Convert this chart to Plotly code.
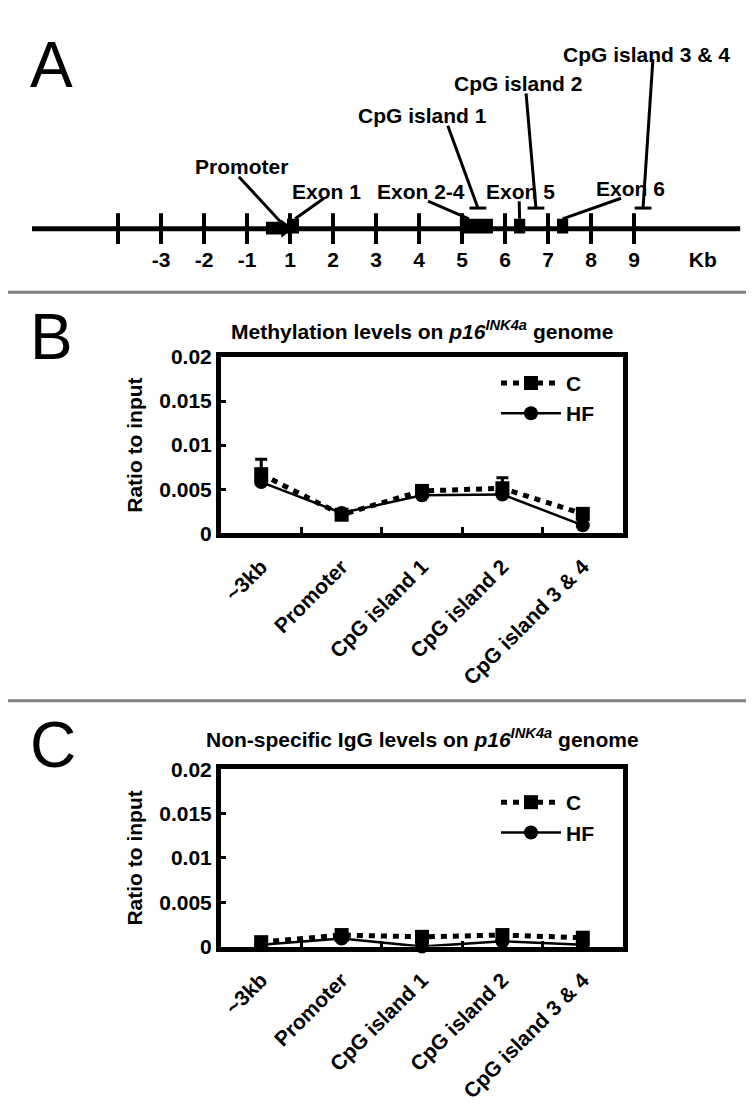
import plotly.graph_objects as go

W, H = 754, 1120

# ---------------- Panel A data (gene map, axis units = kb with 0 skipped) -------------
kb_tick_pos = [-4, -3, -2, -1, 0, 1, 2, 3, 4, 5, 6, 7, 8]
kb_label_pos = [-3, -2, -1, 0, 1, 2, 3, 4, 5, 6, 7, 8, 9.6]
kb_labels = ["-3", "-2", "-1", "1", "2", "3", "4", "5", "6", "7", "8", "9", "Kb"]
gene_extent = [-6.0, 10.47]
exon_names = ["Exon 1", "Exon 2-4", "Exon 5", "Exon 6"]
exon_start = [-0.07, 3.95, 5.21, 6.21]
exon_end = [0.21, 4.72, 5.47, 6.47]
promoter_span = [-0.56, -0.16]
cpg_names = ["CpG island 1", "CpG island 2", "CpG island 3 & 4"]
cpg_pos = [4.37, 5.72, 8.21]

# ---------------- Panels B and C data --------------------------------------------------
regions = ["~3kb", "Promoter", "CpG island 1", "CpG island 2", "CpG island 3 & 4"]
meth_C = [0.0067, 0.0021, 0.0048, 0.0051, 0.0022]
meth_C_err = [0.0017, 0.0003, 0.0003, 0.0012, 0.0004]
meth_HF = [0.0058, 0.0023, 0.0043, 0.0044, 0.0009]
igg_C = [0.0005, 0.0013, 0.0011, 0.0013, 0.0010]
igg_C_err = [0.0003, 0.0004, 0.0006, 0.0004, 0.0003]
igg_HF = [0.0002, 0.0009, 0.0000, 0.0006, 0.0002]
y_ticks = [0, 0.005, 0.01, 0.015, 0.02]
y_ticktext = ["0", "0.005", "0.01", "0.015", "0.02"]

FONT = "Liberation Sans, Arial, sans-serif"
BOLD = dict(family=FONT, size=21, color="black", weight="bold")

fig = go.Figure()

# ---------------- Panel A ----------------
A = dict(xaxis="x3", yaxis="y3", showlegend=False, hoverinfo="skip", cliponaxis=False)
fig.add_trace(go.Scatter(x=gene_extent, y=[0, 0], mode="lines",
                         line=dict(color="black", width=5), **A))
fig.add_trace(go.Scatter(x=kb_tick_pos, y=[0] * len(kb_tick_pos), mode="markers",
                         marker=dict(symbol="line-ns", size=22, color="black",
                                     line=dict(width=4, color="black")), **A))
fig.add_trace(go.Scatter(x=kb_label_pos, y=[-34] * len(kb_label_pos), mode="text",
                         text=kb_labels, textfont=BOLD, **A))
# exons
fig.add_trace(go.Bar(x=[(s + e) / 2 for s, e in zip(exon_start, exon_end)],
                     width=[e - s for s, e in zip(exon_start, exon_end)],
                     y=[15] * len(exon_start), base=[-5] * len(exon_start),
                     marker=dict(color="black", line=dict(width=0)),
                     xaxis="x3", yaxis="y3", showlegend=False, hoverinfo="skip"))
# promoter box + arrow head
fig.add_trace(go.Bar(x=[(promoter_span[0] + promoter_span[1]) / 2],
                     width=[promoter_span[1] - promoter_span[0]],
                     y=[13], base=[-6],
                     marker=dict(color="black", line=dict(width=0)),
                     xaxis="x3", yaxis="y3", showlegend=False, hoverinfo="skip"))
fig.add_trace(go.Scatter(x=[promoter_span[1] + 0.05], y=[0], mode="markers",
                         marker=dict(symbol="triangle-right", size=16, color="black"), **A))

# leader lines
exon_label_xy = [(0.84, 38), (3.05, 38), (5.35, 38), (7.91, 41)]
exon_line_start = [(0.79, 31), (3.21, 28), (5.33, 28), (7.70, 31)]
exon_line_end = [(exon_end[0] - 0.09, 10), (exon_start[1] + 0.21, 10),
                 ((exon_start[2] + exon_end[2]) / 2, 10), ((exon_start[3] + exon_end[3]) / 2, 10)]
for name, (lx, ly), (sx, sy), (ex, ey) in zip(exon_names, exon_label_xy, exon_line_start, exon_line_end):
    fig.add_trace(go.Scatter(x=[sx, ex], y=[sy, ey], mode="lines",
                             line=dict(color="black", width=3), **A))
    fig.add_annotation(x=lx, y=ly, xref="x3", yref="y3", text=name, showarrow=False,
                       font=BOLD, xanchor="center", yanchor="middle")

cpg_label_xy = [(3.09, 116), (5.30, 148), (8.28, 178)]
cpg_line_start = [(3.67, 105), (5.49, 138), (8.44, 173)]
for name, pos, (lx, ly), (sx, sy) in zip(cpg_names, cpg_pos, cpg_label_xy, cpg_line_start):
    fig.add_trace(go.Scatter(x=[sx, pos], y=[sy, 21], mode="lines",
                             line=dict(color="black", width=3), **A))
    fig.add_annotation(x=lx, y=ly, xref="x3", yref="y3", text=name, showarrow=False,
                       font=BOLD, xanchor="center", yanchor="middle")
fig.add_trace(go.Scatter(x=cpg_pos, y=[21] * len(cpg_pos), mode="markers",
                         marker=dict(symbol="line-ew", size=12, color="black",
                                     line=dict(width=3, color="black")), **A))

# promoter label + leader
fig.add_trace(go.Scatter(x=[-1.19, promoter_span[1] - 0.02], y=[53, 5], mode="lines",
                         line=dict(color="black", width=3), **A))
fig.add_annotation(x=-1.12, y=63, xref="x3", yref="y3", text="Promoter", showarrow=False,
                   font=BOLD, xanchor="center", yanchor="middle")

# ---------------- Panels B & C ----------------
xcat = list(range(len(regions)))


def add_panel(c_vals, c_err, hf_vals, xa, ya, legend):
    fig.add_trace(go.Scatter(
        x=xcat, y=hf_vals, mode="lines+markers", name="HF",
        line=dict(color="black", width=2.5),
        marker=dict(symbol="circle", size=14, color="black"),
        xaxis=xa, yaxis=ya, legend=legend, legendrank=2,
        cliponaxis=False))
    fig.add_trace(go.Scatter(
        x=xcat, y=c_vals, mode="lines+markers", name="C",
        line=dict(color="black", width=5, dash="6px,6px"),
        marker=dict(symbol="square", size=14, color="black"),
        error_y=dict(type="data", array=c_err, arrayminus=[0] * len(c_err),
                     color="black", thickness=3, width=6),
        xaxis=xa, yaxis=ya, legend=legend, legendrank=1,
        cliponaxis=False))


add_panel(meth_C, meth_C_err, meth_HF, "x", "y", "legend")
add_panel(igg_C, igg_C_err, igg_HF, "x2", "y2", "legend2")

xdom = [213 / W, 615 / W]
xcommon = dict(range=[-0.5, 4.5], tickmode="array", tickvals=xcat, ticktext=regions,
               tickangle=-45, ticks="", showline=True, linewidth=5, linecolor="black",
               mirror=True, showgrid=False, zeroline=False, ticklabelstandoff=8,
               tickfont=BOLD,
               minor=dict(tickmode="array", tickvals=[0.5, 1.5, 2.5, 3.5], ticks="inside",
                          ticklen=6, tickwidth=3, tickcolor="black", showgrid=False))
ycommon = dict(range=[0, 0.02], tickmode="array", tickvals=y_ticks, ticktext=y_ticktext,
               ticks="inside", ticklen=5, tickwidth=3, tickcolor="black",
               showline=True, linewidth=5, linecolor="black", mirror=True,
               showgrid=False, zeroline=False, tickfont=BOLD,
               title=dict(text="Ratio to input", font=BOLD, standoff=12))

legcommon = dict(font=BOLD, bgcolor="rgba(0,0,0,0)", borderwidth=0, xanchor="left",
                 yanchor="top", itemwidth=60, traceorder="normal")

fig.update_layout(
    width=W, height=H,
    margin=dict(l=0, r=0, t=0, b=0),
    paper_bgcolor="white", plot_bgcolor="white",
    font=dict(family=FONT, color="black"),
    barmode="overlay",
    xaxis=dict(domain=xdom, anchor="y", **xcommon),
    yaxis=dict(domain=[1 - 524 / H, 1 - 344 / H], anchor="x", **ycommon),
    xaxis2=dict(domain=xdom, anchor="y2", **xcommon),
    yaxis2=dict(domain=[1 - 946 / H, 1 - 765 / H], anchor="x2", **ycommon),
    xaxis3=dict(domain=[0, 1], range=[-282 / 43, (W - 282) / 43], anchor="y3", visible=False),
    yaxis3=dict(domain=[1 - 260 / H, 1], range=[-47, 213], anchor="x3", visible=False),
    legend=dict(x=488 / W, y=1 - 350 / H, **legcommon),
    legend2=dict(x=488 / W, y=1 - 778 / H, **legcommon),
    showlegend=True,
)

# separators
for py in (278, 695):
    fig.add_shape(type="line", xref="paper", yref="paper", x0=0, x1=1,
                  y0=1 - py / H, y1=1 - py / H, line=dict(color="#808080", width=3))

# panel letters
for letter, py in (("A", 46), ("B", 324), ("C", 740)):
    fig.add_annotation(x=20 / W, y=1 - py / H, xref="paper", yref="paper", text=letter,
                       showarrow=False, xanchor="left", yanchor="middle",
                       font=dict(family=FONT, size=64, color="black"))

# panel titles
fig.add_annotation(x=414 / W, y=1 - 317 / H, xref="paper", yref="paper",
                   text="Methylation levels on <i>p16<sup>INK4a</sup></i> genome",
                   showarrow=False, font=BOLD, xanchor="center", yanchor="middle")
fig.add_annotation(x=414 / W, y=1 - 733 / H, xref="paper", yref="paper",
                   text="Non-specific IgG levels on <i>p16<sup>INK4a</sup></i> genome",
                   showarrow=False, font=BOLD, xanchor="center", yanchor="middle")

fig.write_html("out.html")
